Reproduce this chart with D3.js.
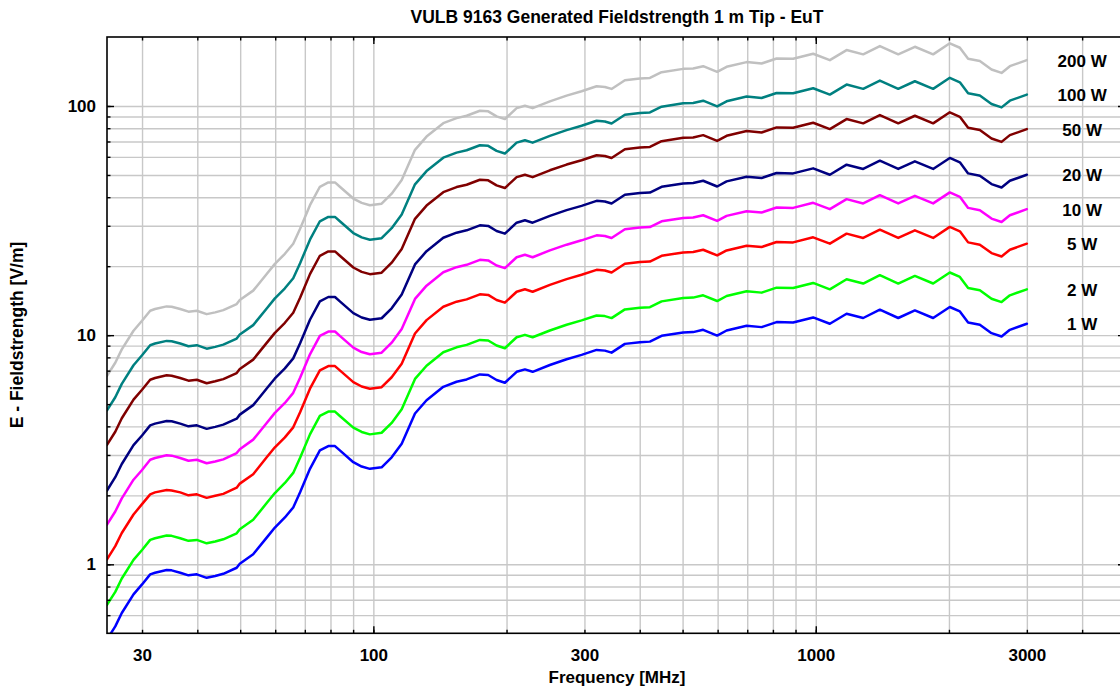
<!DOCTYPE html>
<html>
<head>
<meta charset="utf-8">
<script src="https://cdn.jsdelivr.net/npm/d3@7"></script>
<style>
  body { margin: 0; background: #fff; }
  svg { display: block; font-family: "Liberation Sans", Arial, sans-serif; font-weight: bold; }
</style>
</head>
<body>
<script>
const freq = [25, 26.1, 27, 28.7, 30, 31.3, 32.1, 34.1, 35, 36.6,
  38.2, 39.9, 42, 43.9, 45.8, 49.1, 49.9, 53.5, 57.4, 59.9,
  63.1, 65.9, 68.3, 71.9, 75.7, 79.1, 81.9, 84, 90.1, 94.1,
  98.2, 104.4, 110, 115.9, 124.2, 131.9, 143.9, 154.2, 162.5, 174.1,
  181.8, 189.9, 198.3, 210.8, 220.1, 229.1, 250.6, 273.4, 295.6, 319.6,
  333.7, 345.5, 370.3, 400.4, 421.8, 448.2, 501.5, 528.3, 556.5, 598.6,
  628.7, 697.8, 754.4, 815.6, 888.9, 986.5, 1076, 1174, 1280, 1396,
  1536, 1675, 1842, 2009, 2117, 2210, 2349, 2496, 2630, 2746, 3000]

// campo en V/m
const e200W = [6.65, 7.58, 8.67, 10.45, 11.55, 12.78, 13.0, 13.35, 13.31, 13.0,
  12.66, 12.78, 12.35, 12.57, 12.86, 13.66, 14.23, 15.64, 18.5, 20.46,
  22.64, 25.05, 29.15, 36.91, 44.41, 46.39, 46.39, 44.41, 39.46, 37.76,
  36.91, 37.48, 41.44, 47.52, 64.35, 73.54, 84.15, 88.53, 90.65, 95.32,
  94.75, 90.08, 87.68, 97.86, 100.3, 97.86, 104.8, 111.0, 116.0, 121.9,
  121.1, 118.7, 129.5, 131.8, 132.5, 140.4, 145.2, 145.8, 149.2, 140.9,
  148.2, 155.4, 153.3, 161.2, 160.7, 169.0, 158.5, 175.4, 168.0, 182.6,
  168.0, 181.3, 168.0, 187.7, 179.5, 160.7, 157.0, 144.3, 139.4, 149.2, 158.5]

const e100W = [4.7, 5.36, 6.13, 7.39, 8.17, 9.04, 9.19, 9.44, 9.41, 9.19,
  8.95, 9.04, 8.73, 8.89, 9.09, 9.66, 10.06, 11.06, 13.08, 14.47,
  16.01, 17.71, 20.61, 26.1, 31.4, 32.8, 32.8, 31.4, 27.9, 26.7,
  26.1, 26.5, 29.3, 33.6, 45.5, 52.0, 59.5, 62.6, 64.1, 67.4,
  67.0, 63.7, 62.0, 69.2, 70.9, 69.2, 74.1, 78.5, 82.0, 86.2,
  85.6, 83.9, 91.6, 93.2, 93.7, 99.3, 102.7, 103.1, 105.5, 99.6,
  104.8, 109.9, 108.4, 114.0, 113.6, 119.5, 112.1, 124.0, 118.8, 129.1,
  118.8, 128.2, 118.8, 132.7, 126.9, 113.6, 111.0, 102.0, 98.6, 105.5, 112.1]

const e50W = [3.32, 3.79, 4.34, 5.23, 5.78, 6.39, 6.5, 6.68, 6.65, 6.5,
  6.33, 6.39, 6.17, 6.29, 6.43, 6.83, 7.11, 7.82, 9.25, 10.23,
  11.32, 12.52, 14.57, 18.46, 22.2, 23.19, 23.19, 22.2, 19.73, 18.88,
  18.46, 18.74, 20.72, 23.76, 32.17, 36.77, 42.07, 44.27, 45.33, 47.66,
  47.38, 45.04, 43.84, 48.93, 50.13, 48.93, 52.4, 55.51, 57.98, 60.95,
  60.53, 59.33, 64.77, 65.9, 66.26, 70.22, 72.62, 72.9, 74.6, 70.43,
  74.11, 77.71, 76.65, 80.61, 80.33, 84.5, 79.27, 87.68, 84.0, 91.29,
  84.0, 90.65, 84.0, 93.83, 89.73, 80.33, 78.49, 72.13, 69.72, 74.6, 79.27]

const e20W = [2.1, 2.4, 2.74, 3.31, 3.65, 4.04, 4.11, 4.22, 4.21, 4.11,
  4.0, 4.04, 3.9, 3.98, 4.07, 4.32, 4.5, 4.95, 5.85, 6.47,
  7.16, 7.92, 9.22, 11.67, 14.04, 14.67, 14.67, 14.04, 12.48, 11.94,
  11.67, 11.85, 13.1, 15.03, 20.35, 23.25, 26.61, 28.0, 28.67, 30.14,
  29.96, 28.49, 27.73, 30.95, 31.71, 30.95, 33.14, 35.11, 36.67, 38.55,
  38.28, 37.52, 40.96, 41.68, 41.9, 44.41, 45.93, 46.11, 47.18, 44.54,
  46.87, 49.15, 48.48, 50.98, 50.8, 53.44, 50.13, 55.45, 53.13, 57.73,
  53.13, 57.33, 53.13, 59.34, 56.75, 50.8, 49.64, 45.62, 44.09, 47.18, 50.13]

const e10W = [1.49, 1.7, 1.94, 2.34, 2.58, 2.86, 2.91, 2.99, 2.98, 2.91,
  2.83, 2.86, 2.76, 2.81, 2.87, 3.06, 3.18, 3.5, 4.14, 4.58,
  5.06, 5.6, 6.52, 8.25, 9.93, 10.37, 10.37, 9.93, 8.82, 8.44,
  8.25, 8.38, 9.27, 10.63, 14.39, 16.44, 18.82, 19.8, 20.27, 21.31,
  21.19, 20.14, 19.61, 21.88, 22.42, 21.88, 23.43, 24.82, 25.93, 27.26,
  27.07, 26.53, 28.97, 29.47, 29.63, 31.4, 32.48, 32.6, 33.36, 31.5,
  33.14, 34.75, 34.28, 36.05, 35.92, 37.79, 35.45, 39.21, 37.57, 40.82,
  37.57, 40.54, 37.57, 41.96, 40.13, 35.92, 35.1, 32.26, 31.18, 33.36, 35.45]

const e5W = [1.05, 1.2, 1.37, 1.65, 1.83, 2.02, 2.06, 2.11, 2.1, 2.06,
  2.0, 2.02, 1.95, 1.99, 2.03, 2.16, 2.25, 2.47, 2.93, 3.24,
  3.58, 3.96, 4.61, 5.84, 7.02, 7.33, 7.33, 7.02, 6.24, 5.97,
  5.84, 5.93, 6.55, 7.51, 10.17, 11.63, 13.3, 14.0, 14.33, 15.07,
  14.98, 14.24, 13.86, 15.47, 15.85, 15.47, 16.57, 17.55, 18.34, 19.28,
  19.14, 18.76, 20.48, 20.84, 20.95, 22.2, 22.96, 23.05, 23.59, 22.27,
  23.43, 24.57, 24.24, 25.49, 25.4, 26.72, 25.07, 27.73, 26.56, 28.87,
  26.56, 28.67, 26.56, 29.67, 28.38, 25.4, 24.82, 22.81, 22.05, 23.59, 25.07]

const e2W = [0.665, 0.758, 0.867, 1.045, 1.155, 1.278, 1.3, 1.335, 1.331, 1.3,
  1.266, 1.278, 1.235, 1.257, 1.286, 1.366, 1.423, 1.564, 1.85, 2.046,
  2.264, 2.505, 2.915, 3.69, 4.44, 4.64, 4.64, 4.44, 3.95, 3.78,
  3.69, 3.75, 4.14, 4.75, 6.44, 7.35, 8.42, 8.85, 9.07, 9.53,
  9.48, 9.01, 8.77, 9.79, 10.03, 9.79, 10.48, 11.1, 11.6, 12.19,
  12.11, 11.87, 12.95, 13.18, 13.25, 14.04, 14.52, 14.58, 14.92, 14.09,
  14.82, 15.54, 15.33, 16.12, 16.07, 16.9, 15.85, 17.54, 16.8, 18.26,
  16.8, 18.13, 16.8, 18.77, 17.95, 16.07, 15.7, 14.42, 13.94, 14.92, 15.85]

const e1W = [0.47, 0.536, 0.613, 0.739, 0.817, 0.904, 0.919, 0.944, 0.941, 0.919,
  0.895, 0.904, 0.873, 0.889, 0.909, 0.966, 1.006, 1.106, 1.308, 1.447,
  1.601, 1.771, 2.061, 2.61, 3.14, 3.28, 3.28, 3.14, 2.79, 2.67,
  2.61, 2.65, 2.93, 3.36, 4.55, 5.2, 5.95, 6.26, 6.41, 6.74,
  6.7, 6.37, 6.2, 6.92, 7.09, 6.92, 7.41, 7.85, 8.2, 8.62,
  8.56, 8.39, 9.16, 9.32, 9.37, 9.93, 10.27, 10.31, 10.55, 9.96,
  10.48, 10.99, 10.84, 11.4, 11.36, 11.95, 11.21, 12.4, 11.88, 12.91,
  11.88, 12.82, 11.88, 13.27, 12.69, 11.36, 11.1, 10.2, 9.86, 10.55, 11.21]

const nombres = ["200 W", "100 W", "50 W", "20 W", "10 W", "5 W", "2 W", "1 W"]
const valores = [e200W, e100W, e50W, e20W, e10W, e5W, e2W, e1W]
const colores = ["#c0c0c0", "#008080", "#800000", "#000080", "#ff00ff", "#ff0000", "#00ff00", "#0000ff"]

// ticks y rejilla
const xGrid = [30, 40, 50, 60, 70, 80, 90, 100, 200, 300, 400, 500, 600, 700, 800, 900, 1000, 2000, 3000, 4000]
const xMajor = [100, 1000]
const xLabels = [30, 100, 300, 1000, 3000]
const yGrid = [0.6, 0.7, 0.8, 0.9, 1, 2, 3, 4, 5, 6, 7, 8, 9, 10, 20, 30, 40, 50, 60, 70, 80, 90, 100]
const yMajor = [1, 10, 100]
const yLabels = [1, 10, 100]
const labelFreq = 4000

var width = 1120
var height = 690
var margin = { top: 37, left: 107, right: 1125, bottom: 633.3 }

var escalaX = d3.scaleLog().domain([25, 5000]).range([margin.left, margin.right])
var escalaY = d3.scaleLog().domain([0.5, 200]).range([margin.bottom, margin.top])

var svg = d3.select("body").append("svg")
  .attr("width", width)
  .attr("height", height)

svg.append("defs").append("clipPath").attr("id", "zona")
  .append("rect")
  .attr("x", margin.left).attr("y", margin.top)
  .attr("width", margin.right - margin.left)
  .attr("height", margin.bottom - margin.top)

// REJILLA
svg.append("g")
  .attr("transform", "translate(0," + margin.bottom + ")")
  .call(d3.axisBottom(escalaX).tickValues(xGrid).tickSize(-(margin.bottom - margin.top)).tickFormat(""))
  .call(g => g.select(".domain").remove())
  .call(g => g.selectAll("line").attr("stroke", "#c8c8c8").attr("stroke-width", 1.4))

svg.append("g")
  .attr("transform", "translate(" + margin.left + ",0)")
  .call(d3.axisLeft(escalaY).tickValues(yGrid).tickSize(-(margin.right - margin.left)).tickFormat(""))
  .call(g => g.select(".domain").remove())
  .call(g => g.selectAll("line").attr("stroke", "#c8c8c8").attr("stroke-width", 1.4))

// CURVAS
var linea = d3.line()
  .x((d, i) => escalaX(freq[i]))
  .y(d => escalaY(d))

svg.append("g")
  .attr("clip-path", "url(#zona)")
  .selectAll("path")
  .data(valores)
  .enter()
  .append("path")
  .attr("d", linea)
  .attr("fill", "none")
  .attr("stroke", (d, i) => colores[i])
  .attr("stroke-width", 2.5)
  .attr("stroke-linejoin", "round")
  .attr("stroke-linecap", "round")

// MARCO Y TICKS (hacia dentro)
function ticks(eje, valoresTick, largo, transform) {
  svg.append("g")
    .attr("transform", transform)
    .call(eje.tickValues(valoresTick).tickSize(largo).tickFormat(""))
    .call(g => g.select(".domain").remove())
    .call(g => g.selectAll("line").attr("stroke", "#000").attr("stroke-width", 1.4))
}
ticks(d3.axisBottom(escalaX), xGrid, -3.5, "translate(0," + margin.bottom + ")")
ticks(d3.axisBottom(escalaX), xMajor, -7, "translate(0," + margin.bottom + ")")
ticks(d3.axisTop(escalaX), xGrid, -3.5, "translate(0," + margin.top + ")")
ticks(d3.axisTop(escalaX), xMajor, -7, "translate(0," + margin.top + ")")
ticks(d3.axisLeft(escalaY), yGrid, -3.5, "translate(" + margin.left + ",0)")
ticks(d3.axisLeft(escalaY), yMajor, -7, "translate(" + margin.left + ",0)")
ticks(d3.axisRight(escalaY), yMajor, -7, "translate(" + margin.right + ",0)")

svg.append("rect")
  .attr("x", margin.left).attr("y", margin.top)
  .attr("width", margin.right - margin.left)
  .attr("height", margin.bottom - margin.top)
  .attr("fill", "none")
  .attr("stroke", "#000")
  .attr("stroke-width", 1.6)

// ETIQUETAS DE EJES
svg.append("g")
  .attr("transform", "translate(0," + margin.bottom + ")")
  .call(d3.axisBottom(escalaX).tickValues(xLabels).tickSize(0).tickPadding(16).tickFormat(d3.format("d")))
  .call(g => g.select(".domain").remove())
  .call(g => g.selectAll("text").attr("font-size", 17).attr("font-family", null).attr("fill", "#000").attr("font-weight", "bold"))

svg.append("g")
  .attr("transform", "translate(" + margin.left + ",0)")
  .call(d3.axisLeft(escalaY).tickValues(yLabels).tickSize(0).tickPadding(11).tickFormat(d3.format("d")))
  .call(g => g.select(".domain").remove())
  .call(g => g.selectAll("text").attr("font-size", 17).attr("font-family", null).attr("fill", "#000").attr("font-weight", "bold"))

// NOMBRES DE SERIES
svg.append("g")
  .selectAll("text")
  .data(valores)
  .enter()
  .append("text")
  .attr("x", escalaX(labelFreq))
  .attr("y", d => escalaY(d[d.length - 1]) + 6.5)
  .attr("text-anchor", "middle")
  .attr("font-size", 17)
  .text((d, i) => nombres[i])

// TITULOS
svg.append("text")
  .attr("x", 617).attr("y", 23)
  .attr("text-anchor", "middle")
  .attr("font-size", 17.5)
  .text("VULB 9163 Generated Fieldstrength 1 m Tip - EuT")

svg.append("text")
  .attr("x", 617).attr("y", 683)
  .attr("text-anchor", "middle")
  .attr("font-size", 17)
  .text("Frequency [MHz]")

svg.append("text")
  .attr("transform", "translate(23,335) rotate(-90)")
  .attr("text-anchor", "middle")
  .attr("font-size", 17.5)
  .text("E - Fieldstrength [V/m]")
</script>
</body>
</html>
